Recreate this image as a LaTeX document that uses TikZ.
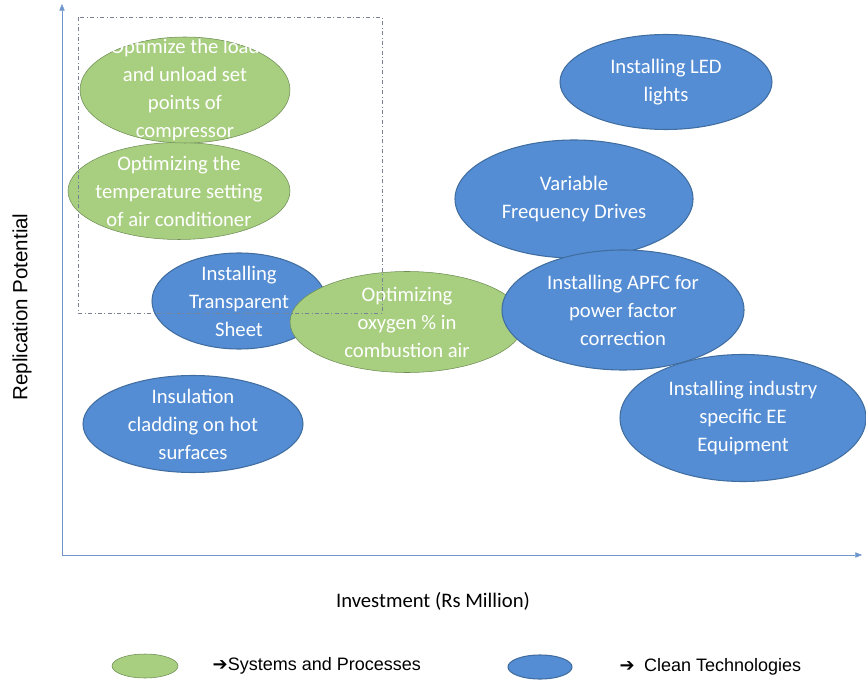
\documentclass[tikz,border=0pt]{standalone}
\usepackage{fontspec}
\setmainfont{Carlito}
\newfontfamily\symfont{DejaVu Sans}
\newfontfamily\keyfont{Liberation Sans}
\usetikzlibrary{arrows.meta, shapes.geometric}
\definecolor{bubgreen}{RGB}{168,207,128}
\definecolor{bubgreenline}{RGB}{110,140,85}
\definecolor{bubblue}{RGB}{84,141,212}
\definecolor{bubblueline}{RGB}{65,110,160}
\definecolor{axisblue}{RGB}{110,150,205}
\definecolor{boxgrey}{RGB}{120,130,150}
\tikzset{
  sysbub/.style={ellipse, draw=bubgreenline, fill=bubgreen, inner sep=0pt},
  techbub/.style={ellipse, draw=bubblueline, fill=bubblue, thick, inner sep=0pt},
  bubtext/.style={text=white, align=center, font=\fontsize{15.5}{21}\selectfont},
  axislabel/.style={font=\fontsize{15.5}{18}\selectfont},
  keylabel/.style={anchor=west, font=\keyfont\fontsize{13.5}{16}\selectfont}
}
\begin{document}
\begin{tikzpicture}[x=0.75pt, y=-0.75pt]
    \useasboundingbox (0,0) rectangle (866,680);
    \begin{scope}

      % axes
      \coordinate (origin) at (62,555);
      \coordinate (xend) at (862,555);
      \coordinate (yend) at (62,4);
      \draw[axisblue, -{Triangle[length=5pt,width=4pt]}] (origin)--(xend);
      \draw[axisblue, -{Triangle[length=5pt,width=4pt]}] (origin)--(yend);
      \node[axislabel, font=\keyfont\fontsize{15.4}{18}\selectfont, rotate=90] (ylab) at (22,307) {Replication Potential};
      \node[axislabel] (xlab) at (433,601) {Investment (Rs Million)};

      % bubbles
      \node[sysbub, minimum width=166.5pt, minimum height=72.75pt] (temp) at (179,191) {};
      \node[bubtext] (tempt) at (temp) {Optimizing the\\temperature setting\\of air conditioner};
      \node[sysbub, minimum width=157.5pt, minimum height=79.5pt] (load) at (185,90) {};
      \node[bubtext] (loadt) at (load) {Optimize the load\\and unload set\\points of\\compressor};

      \node[techbub, minimum width=130.5pt, minimum height=72pt] (sheet) at (239,301) {};
      \node[bubtext] (sheett) at (sheet) {Installing\\Transparent\\Sheet};
      \node[sysbub, minimum width=175.5pt, minimum height=75.75pt] (oxy) at (407,322) {};
      \node[bubtext] (oxyt) at (oxy) {Optimizing\\oxygen \% in\\combustion air};

      \node[techbub, minimum width=165pt, minimum height=72.75pt] (clad) at (193,424) {};
      \node[bubtext] (cladt) at (clad) {Insulation\\cladding on hot\\surfaces};

      \node[techbub, minimum width=159pt, minimum height=71.25pt] (led) at (666,82) {};
      \node[bubtext] (ledt) at (led) {Installing LED\\lights};
      \node[techbub, minimum width=178.5pt, minimum height=88.5pt] (vfd) at (574,199) {};
      \node[bubtext] (vfdt) at (vfd) {Variable\\Frequency Drives};
      \node[techbub, minimum width=184.5pt, minimum height=95.25pt] (equip) at (743,418) {};
      \node[bubtext] (equipt) at (equip) {Installing industry\\specific EE\\Equipment};
      \node[techbub, minimum width=181.5pt, minimum height=90pt] (apfc) at (623,310) {};
      \node[bubtext] (apfct) at (apfc) {Installing APFC for\\power factor\\correction};

      % dashed frame round the systems group
      \draw[boxgrey, dash dot] (78,17) rectangle (382,313);

      % legend
      \node[sysbub, minimum width=49.5pt, minimum height=18pt] (keysys) at (145,666) {};
      \node[keylabel] (keysyst) at (208,666) {{\symfont\bfseries ➔}Systems and Processes};
      \node[techbub, minimum width=48pt, minimum height=18pt] (keytech) at (540,667) {};
      \node[keylabel] (keytecht) at (615,667) {{\symfont\bfseries ➔}\hspace{7pt}Clean Technologies};
    \end{scope}
  \end{tikzpicture}
\end{document}
